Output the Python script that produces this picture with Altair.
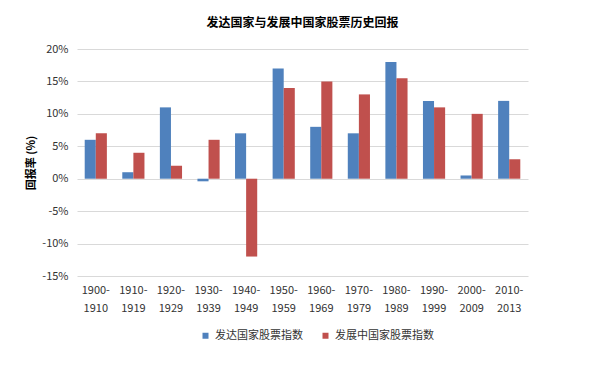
import altair as alt
import pandas as pd

periods = ["1900-1910", "1910-1919", "1920-1929", "1930-1939", "1940-1949", "1950-1959",
           "1960-1969", "1970-1979", "1980-1989", "1990-1999", "2000-2009", "2010-2013"]
developed = [6, 1, 11, -0.4, 7, 17, 8, 7, 18, 12, 0.5, 12]
developing = [7, 4, 2, 6, -12, 14, 15, 13, 15.5, 11, 10, 3]
series = ["发达国家股票指数", "发展中国家股票指数"]
colors = ["#4F81BD", "#C0504D"]

rows = []
for i, p in enumerate(periods):
    rows.append({"period": p, "series": series[0], "value": developed[i]})
    rows.append({"period": p, "series": series[1], "value": developing[i]})
df = pd.DataFrame(rows)

font = "Noto Sans CJK SC"

chart = alt.Chart(df).mark_bar().encode(
    x=alt.X("period:N", sort=periods,
            scale=alt.Scale(paddingInner=0.41, paddingOuter=0.205),
            axis=alt.Axis(title=None, labelAngle=0, domain=False, ticks=False,
                          labelExpr="[slice(datum.label,0,5), slice(datum.label,5)]",
                          labelFont=font, labelFontSize=11, labelColor="#333333",
                          labelPadding=8, labelLineHeight=18)),
    xOffset=alt.XOffset("series:N", sort=series),
    y=alt.Y("value:Q",
            scale=alt.Scale(domain=[-15, 20], nice=False),
            axis=alt.Axis(title="回报率 (%)", values=[-15, -10, -5, 0, 5, 10, 15, 20],
                          labelExpr="datum.value + '%'", domain=False, ticks=False,
                          gridColor="#D9D9D9", labelFont=font, labelFontSize=11,
                          labelColor="#333333", labelPadding=9,
                          titleFont=font, titleFontSize=11, titleFontWeight="bold",
                          titleColor="#000000", titlePadding=5)),
    color=alt.Color("series:N", sort=series,
                    scale=alt.Scale(domain=series, range=colors),
                    legend=alt.Legend(title=None, orient="none", direction="horizontal",
                                      legendX=123, legendY=281, symbolType="square",
                                      symbolSize=36, labelFont=font, labelFontSize=11,
                                      labelColor="#333333", columnPadding=17,
                                      symbolStrokeWidth=0)),
).properties(
    width=451, height=227,
    title=alt.TitleParams("发达国家与发展中国家股票历史回报", font=font, fontSize=12,
                          fontWeight="bold", color="#000000", anchor="middle", offset=13),
    autosize=alt.AutoSizeParams(type="none"),
    padding={"left": 69, "top": 41, "right": 66, "bottom": 81},
).configure_view(stroke=None)

chart.save("out.html", embed_options={"renderer": "svg", "actions": False})
